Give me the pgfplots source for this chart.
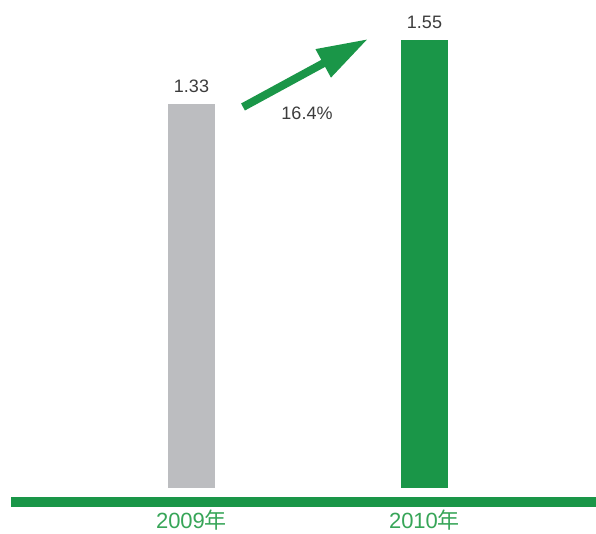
\documentclass[border=0pt]{standalone}
\usepackage{pgfplots}
\pgfplotsset{compat=1.18}
\usepackage{fontspec}
\setmainfont{Liberation Sans}
\newfontfamily\cjk{Noto Sans CJK SC}
\usetikzlibrary{arrows.meta}
\definecolor{bargreen}{RGB}{26,150,72}
\definecolor{bargray}{RGB}{188,189,192}
\definecolor{labelgray}{RGB}{60,60,60}
\definecolor{yeargreen}{RGB}{55,165,88}
\begin{document}
\begin{tikzpicture}
\useasboundingbox (-11pt,-26.5pt) rectangle (585pt,506.5pt);
\begin{axis}[
  at={(0,0)}, anchor=south west,
  scale only axis, width=585pt, height=506.5pt,
  xmin=-0.7747, xmax=1.7361, ymin=-0.064, ymax=1.689,
  axis line style={draw=none},
  major tick length=0pt,
  ytick=\empty,
  xtick={0,1},
  xticklabels={2009{\cjk 年},2010{\cjk 年}},
  xticklabel style={font=\fontsize{22}{25}\selectfont, text=yeargreen, anchor=base, yshift=-22pt},
  ybar, bar width=47pt,
  clip=false,
  point meta=explicit symbolic,
  nodes near coords,
  every node near coord/.style={font=\fontsize{18}{20}\selectfont, text=labelgray, anchor=base, yshift=11.5pt},
]
\addplot[draw=none, fill=bargray, bar shift=0pt] coordinates {(0,1.33) [1.33]};
\addplot[draw=none, fill=bargreen, bar shift=0pt] coordinates {(1,1.55) [1.55]};
\end{axis}
\fill[bargreen] (0pt,0pt) rectangle (585pt,9.5pt);
\draw[bargreen, line width=8pt, -{Triangle[length=51pt,width=30pt]}] (232pt,399.5pt) -- (357pt,467.5pt);
\node[font=\fontsize{18}{20}\selectfont, text=labelgray] at (296pt,393.5pt) {16.4\%};
\end{tikzpicture}
\end{document}
